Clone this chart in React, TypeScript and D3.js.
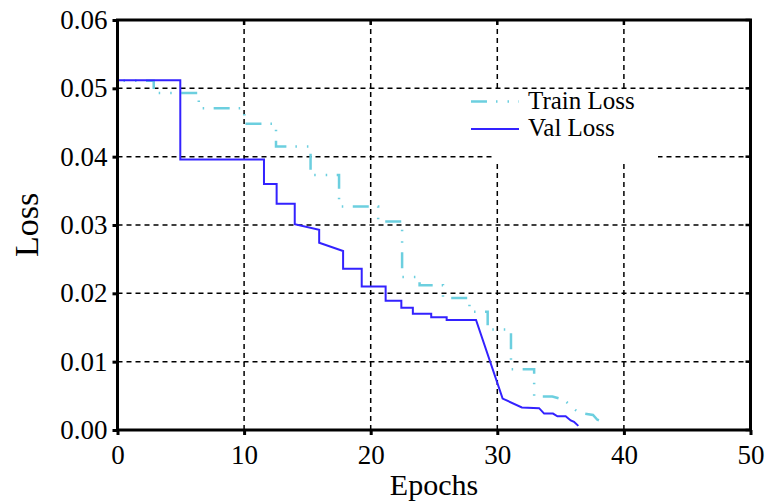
import React, { useEffect, useRef } from "react";
import * as d3 from "d3";

// Train loss: step curve (epoch, loss)
const trainEpochs = [0, 2.86, 2.86, 6.42, 6.42, 10.02, 10.02, 12.52, 12.52, 15.25, 15.25, 17.5, 17.5, 20.59, 20.59, 22.48, 22.48, 23.86, 23.86, 25.71, 25.71, 27.8, 27.8, 29.24, 29.24, 31.08, 31.08, 32.91, 32.91, 34.35, 35.28, 36.2, 36.85, 37.56, 37.9, 38.69];
const trainLoss = [0.0511, 0.0511, 0.0493, 0.0493, 0.0471, 0.0471, 0.0448, 0.0448, 0.0415, 0.0415, 0.0373, 0.0373, 0.0327, 0.0327, 0.0305, 0.0305, 0.0224, 0.0224, 0.0212, 0.0212, 0.0193, 0.0193, 0.0173, 0.0173, 0.0147, 0.0147, 0.0089, 0.0089, 0.0049, 0.0049, 0.0044, 0.0029, 0.0024, 0.0022, 0.0015, 0.001];

// Val loss
const valEpochs = [0, 4.96, 4.96, 11.57, 11.57, 12.57, 12.57, 14.0, 14.0, 15.93, 15.93, 17.82, 17.82, 19.29, 19.29, 21.18, 21.18, 22.42, 22.42, 23.33, 23.33, 24.78, 24.78, 26.0, 26.0, 28.32, 30.42, 31.94, 33.3, 33.7, 34.4, 34.75, 35.4, 35.8, 36.06, 36.4];
const valLoss = [0.0512, 0.0512, 0.0396, 0.0396, 0.036, 0.036, 0.0331, 0.0331, 0.0301, 0.0293, 0.0274, 0.0262, 0.0236, 0.0236, 0.021, 0.021, 0.0189, 0.0189, 0.0179, 0.0179, 0.017, 0.017, 0.0165, 0.0165, 0.0161, 0.0161, 0.0046, 0.0033, 0.0032, 0.0024, 0.0024, 0.002, 0.002, 0.0014, 0.0012, 0.0006];

const xTicks = [0, 10, 20, 30, 40, 50];
const yTicks = [0, 0.01, 0.02, 0.03, 0.04, 0.05, 0.06];
const legendLabels = ["Train Loss", "Val Loss"];

const W = 766;
const H = 502;
const FONT = "Liberation Serif";
const TRAIN_COLOR = "#6ccfdf";
const VAL_COLOR = "#3322ff";
const TRAIN_DASH = "16,9,1.5,10,1.5,9.5";

const App = () => {
  const ref = useRef<SVGSVGElement>(null);

  useEffect(() => {
    const svg = d3.select(ref.current);
    svg.selectAll("*").remove();

    const margin = { top: 20, right: 15.5, bottom: 72, left: 117.5 };
    const x = d3.scaleLinear().domain([0, 50]).range([margin.left, W - margin.right]);
    const y = d3.scaleLinear().domain([0, 0.06]).range([H - margin.bottom, margin.top]);
    const [x0, x1] = x.range();
    const [y0, y1] = y.range();

    // grid
    const grid = svg.append("g").attr("stroke", "#000").attr("stroke-width", 1.5).attr("stroke-dasharray", "5,4");
    grid.selectAll(".gx").data(xTicks.slice(1, -1)).join("line")
      .attr("x1", (d) => x(d)).attr("x2", (d) => x(d)).attr("y1", y0).attr("y2", y1);
    grid.selectAll(".gy").data(yTicks.slice(1, -1)).join("line")
      .attr("x1", x0).attr("x2", x1).attr("y1", (d) => y(d)).attr("y2", (d) => y(d));

    // legend background hides grid
    svg.append("rect").attr("x", 493).attr("y", 89).attr("width", 165).attr("height", 75).attr("fill", "#fff");

    // lines
    const trainPts = trainEpochs.map((e, i) => [e, trainLoss[i]] as [number, number]);
    const valPts = valEpochs.map((e, i) => [e, valLoss[i]] as [number, number]);
    const line = d3.line<[number, number]>().x((d) => x(d[0])).y((d) => y(d[1]));

    svg.append("path").datum(trainPts).attr("d", line).attr("fill", "none")
      .attr("stroke", TRAIN_COLOR).attr("stroke-width", 2.5)
      .attr("stroke-dasharray", TRAIN_DASH).attr("stroke-dashoffset", 19);
    svg.append("path").datum(valPts).attr("d", line).attr("fill", "none")
      .attr("stroke", VAL_COLOR).attr("stroke-width", 2);

    // frame
    svg.append("rect").attr("x", x0).attr("y", y1).attr("width", x1 - x0).attr("height", y0 - y1)
      .attr("fill", "none").attr("stroke", "#000").attr("stroke-width", 3);

    // axes
    const xAxis = svg.append("g").attr("transform", `translate(0,${y0})`)
      .call(d3.axisBottom(x).tickValues(xTicks).tickSize(5).tickPadding(10).tickFormat(d3.format("d")));
    const yAxis = svg.append("g").attr("transform", `translate(${x0},0)`)
      .call(d3.axisLeft(y).tickValues(yTicks).tickSize(5).tickPadding(5).tickFormat(d3.format(".2f")));
    [xAxis, yAxis].forEach((g) => {
      g.attr("font-family", FONT).attr("font-size", 27);
      g.select(".domain").remove();
      g.selectAll(".tick line").attr("stroke", "#000").attr("stroke-width", 3);
      g.selectAll(".tick text").attr("fill", "#000");
    });

    // inner ticks on top and right
    svg.append("g").selectAll("line").data(xTicks).join("line")
      .attr("x1", (d) => x(d)).attr("x2", (d) => x(d)).attr("y1", y1).attr("y2", y1 + 5)
      .attr("stroke", "#000").attr("stroke-width", 2.5);
    svg.append("g").selectAll("line").data(yTicks).join("line")
      .attr("x1", x1).attr("x2", x1 - 5).attr("y1", (d) => y(d)).attr("y2", (d) => y(d))
      .attr("stroke", "#000").attr("stroke-width", 2.5);

    // axis titles
    svg.append("text").attr("x", (x0 + x1) / 2).attr("y", 495).attr("text-anchor", "middle")
      .attr("font-family", FONT).attr("font-size", 30).text("Epochs");
    svg.append("text").attr("transform", `translate(38,${(y0 + y1) / 2}) rotate(-90)`)
      .attr("text-anchor", "middle").attr("font-family", FONT).attr("font-size", 34).text("Loss");

    // legend
    const legend = svg.append("g");
    const colors = [TRAIN_COLOR, VAL_COLOR];
    legendLabels.forEach((lab, i) => {
      const ly = 101.5 + i * 27.5;
      legend.append("line").attr("x1", 471).attr("x2", 519).attr("y1", ly).attr("y2", ly)
        .attr("stroke", colors[i]).attr("stroke-width", i === 0 ? 2.5 : 2)
        .attr("stroke-dasharray", i === 0 ? TRAIN_DASH : null);
      legend.append("text").attr("x", 528).attr("y", ly + 7)
        .attr("font-family", FONT).attr("font-size", 25).text(lab);
    });
  }, []);

  return (
    <svg ref={ref} width={W} height={H} style={{ position: "absolute", left: 0, top: 0, background: "#fff" }}></svg>
  );
};

export default App;
